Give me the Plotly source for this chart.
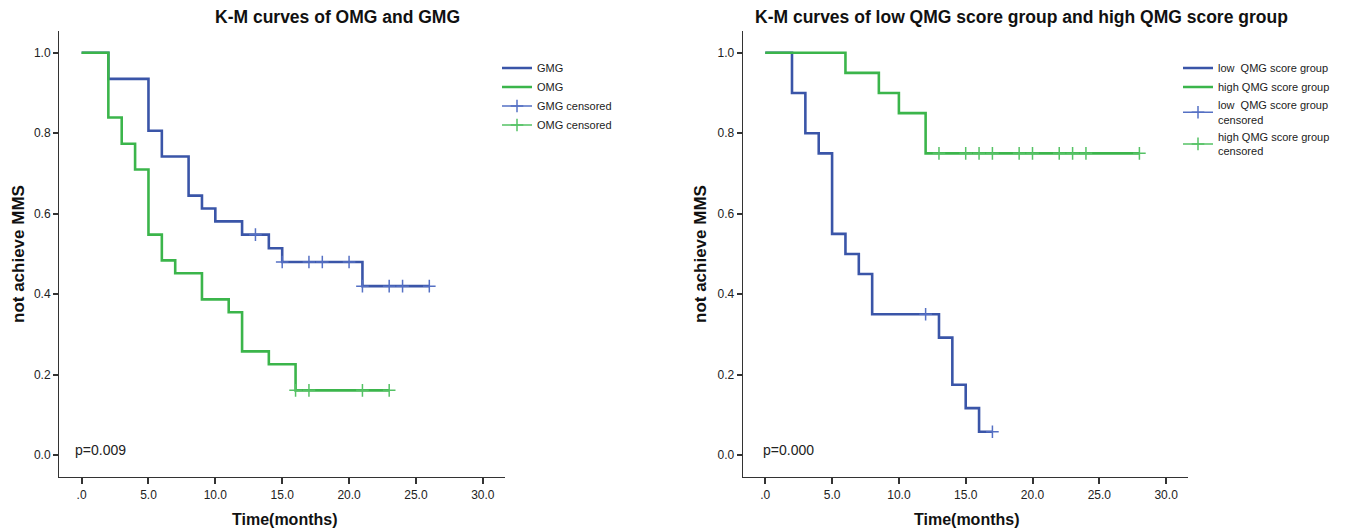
import plotly.graph_objects as go

# ---------------- data ----------------
# Left panel: OMG vs GMG
gmg_times = [0, 2, 5, 6, 8, 9, 10, 12, 14, 15, 21]
gmg_surv = [1.0, 0.935, 0.806, 0.742, 0.645, 0.613, 0.581, 0.548, 0.514, 0.480, 0.420]
gmg_cens_t = [13, 15, 17, 18, 20, 21, 23, 24, 26]
gmg_cens_s = [0.548, 0.480, 0.480, 0.480, 0.480, 0.420, 0.420, 0.420, 0.420]

omg_times = [0, 2, 3, 4, 5, 6, 7, 9, 11, 12, 14, 16]
omg_surv = [1.0, 0.839, 0.774, 0.710, 0.548, 0.484, 0.452, 0.387, 0.355, 0.258, 0.226, 0.161]
omg_cens_t = [16, 17, 21, 23]
omg_cens_s = [0.161, 0.161, 0.161, 0.161]

# Right panel: low vs high QMG score group
low_times = [0, 2, 3, 4, 5, 6, 7, 8, 13, 14, 15, 16]
low_surv = [1.0, 0.90, 0.80, 0.75, 0.55, 0.50, 0.45, 0.35, 0.292, 0.175, 0.117, 0.058]
low_cens_t = [12, 17]
low_cens_s = [0.35, 0.058]

high_times = [0, 6, 8.5, 10, 12]
high_surv = [1.0, 0.95, 0.90, 0.85, 0.75]
high_cens_t = [13, 15, 16, 17, 19, 20, 22, 23, 24, 28]
high_cens_s = [0.75] * 10

x_tickvals = [0, 5, 10, 15, 20, 25, 30]
x_ticktext = [".0", "5.0", "10.0", "15.0", "20.0", "25.0", "30.0"]
y_tickvals = [0.0, 0.2, 0.4, 0.6, 0.8, 1.0]
y_ticktext = ["0.0", "0.2", "0.4", "0.6", "0.8", "1.0"]

titles = ["K-M curves of OMG and GMG",
          "K-M curves of low QMG score group and high QMG score group"]
p_texts = ["p=0.009", "p=0.000"]
x_title = "Time(months)"
y_title = "not achieve MMS"

# ---------------- styles ----------------
BLUE = "#3a55a8"
GREEN = "#3bb54b"
BLUE_C = "#5570c4"
GREEN_C = "#55c265"
FONT = "Liberation Sans, Arial, sans-serif"

# The page body has an 8px default margin: size the figure so it fills the window
OFF = 8
W, H = 1346 - OFF, 530 - OFF


def px(xs):  # screen x -> paper
    return (xs - OFF) / W


def py(ys):  # screen y -> paper
    return 1 - (ys - OFF) / H


def step_xy(times, surv, cens_t):
    end = max(cens_t) if cens_t else times[-1]
    return list(times) + [end], list(surv) + [surv[-1]]


def cens_xy(ts, ss):
    xs, ys = [], []
    for t, s in zip(ts, ss):
        xs += [t, None]
        ys += [s, None]
    return xs, ys


fig = go.Figure()


def add_panel(xa, ya, legend, groups):
    for name, times, surv, cens_t, color in groups:
        x, y = step_xy(times, surv, cens_t)
        fig.add_trace(go.Scatter(x=x, y=y, mode="lines", line=dict(shape="hv", color=color, width=2.6),
                                 name=name, xaxis=xa, yaxis=ya, legend=legend, hoverinfo="x+y"))


def add_cens(xa, ya, legend, groups):
    for name, ts, ss, color in groups:
        x, y = cens_xy(ts, ss)
        fig.add_trace(go.Scatter(x=x, y=y, mode="lines+markers", connectgaps=False,
                                 line=dict(color=color, width=1.5),
                                 marker=dict(symbol="cross-thin", size=9,
                                             line=dict(color=color, width=1.5)),
                                 name=name, xaxis=xa, yaxis=ya, legend=legend))


add_panel("x", "y", "legend", [
    ("GMG", gmg_times, gmg_surv, gmg_cens_t, BLUE),
    ("OMG", omg_times, omg_surv, omg_cens_t, GREEN),
])
add_cens("x", "y", "legend", [
    ("GMG censored", gmg_cens_t, gmg_cens_s, BLUE_C),
    ("OMG censored", omg_cens_t, omg_cens_s, GREEN_C),
])
add_panel("x2", "y2", "legend2", [
    ("low  QMG score group", low_times, low_surv, low_cens_t, BLUE),
    ("high QMG score group", high_times, high_surv, high_cens_t, GREEN),
])
add_cens("x2", "y2", "legend2", [
    ("low  QMG score group<br>censored", low_cens_t, low_cens_s, BLUE_C),
    ("high QMG score group<br>censored", high_cens_t, high_cens_s, GREEN_C),
])

left_dom = [px(59), px(505)]
right_dom = [px(742.7), px(1188.3)]
y_dom = [py(477.3), py(31)]

xaxis_common = dict(range=[-1.69, 31.66], tickvals=x_tickvals, ticktext=x_ticktext,
                    showline=True, linecolor="#333", linewidth=1, ticks="outside",
                    ticklen=6, tickwidth=1.5, tickcolor="#333", showgrid=False, zeroline=False,
                    automargin=False,
                    tickfont=dict(family=FONT, size=12, color="#222"))
yaxis_common = dict(range=[-0.055, 1.054], tickvals=y_tickvals, ticktext=y_ticktext,
                    showline=True, linecolor="#333", linewidth=1, ticks="outside",
                    ticklen=5, tickwidth=1.5, tickcolor="#333", showgrid=False, zeroline=False,
                    automargin=False,
                    tickfont=dict(family=FONT, size=12, color="#222"), domain=y_dom)

fig.update_layout(
    width=W, height=H,
    margin=dict(l=0, r=0, t=0, b=0, autoexpand=False),
    paper_bgcolor="white", plot_bgcolor="white",
    font=dict(family=FONT, color="#222"),
    xaxis=dict(domain=left_dom, anchor="y", **xaxis_common),
    yaxis=dict(anchor="x", **yaxis_common),
    xaxis2=dict(domain=right_dom, anchor="y2", **xaxis_common),
    yaxis2=dict(anchor="x2", **yaxis_common),
    legend=dict(x=px(497), y=py(53.5), xanchor="left", yanchor="top",
                font=dict(family=FONT, size=11, color="#222"), bgcolor="rgba(0,0,0,0)",
                tracegroupgap=0, itemwidth=30),
    legend2=dict(x=px(1178), y=py(53.5), xanchor="left", yanchor="top",
                 font=dict(family=FONT, size=11, color="#222"), bgcolor="rgba(0,0,0,0)",
                 tracegroupgap=0, itemwidth=30),
    showlegend=True,
)

# panel titles
for txt, cx in zip(titles, [337, 1021]):
    fig.add_annotation(text="<b>" + txt + "</b>", xref="paper", yref="paper",
                       x=px(cx), y=py(17), xanchor="center", yanchor="middle", showarrow=False,
                       font=dict(family=FONT, size=17.5, color="#111"))
# axis titles
for cx in [284, 966]:
    fig.add_annotation(text="<b>" + x_title + "</b>", xref="paper", yref="paper",
                       x=px(cx), y=py(519), xanchor="center", yanchor="middle", showarrow=False,
                       font=dict(family=FONT, size=16, color="#111"))
for cx in [18, 700]:
    fig.add_annotation(text="<b>" + y_title + "</b>", xref="paper", yref="paper",
                       x=px(cx), y=py(254), xanchor="center", yanchor="middle", showarrow=False,
                       textangle=-90, font=dict(family=FONT, size=17, color="#111"))

fig.add_annotation(text=p_texts[0], xref="x", yref="y", x=-0.65, y=0.012,
                   xanchor="left", yanchor="middle", showarrow=False,
                   font=dict(family=FONT, size=14, color="#222"))
fig.add_annotation(text=p_texts[1], xref="x2", yref="y2", x=-0.3, y=0.012,
                   xanchor="left", yanchor="middle", showarrow=False,
                   font=dict(family=FONT, size=14, color="#222"))

fig.write_html("out.html")
